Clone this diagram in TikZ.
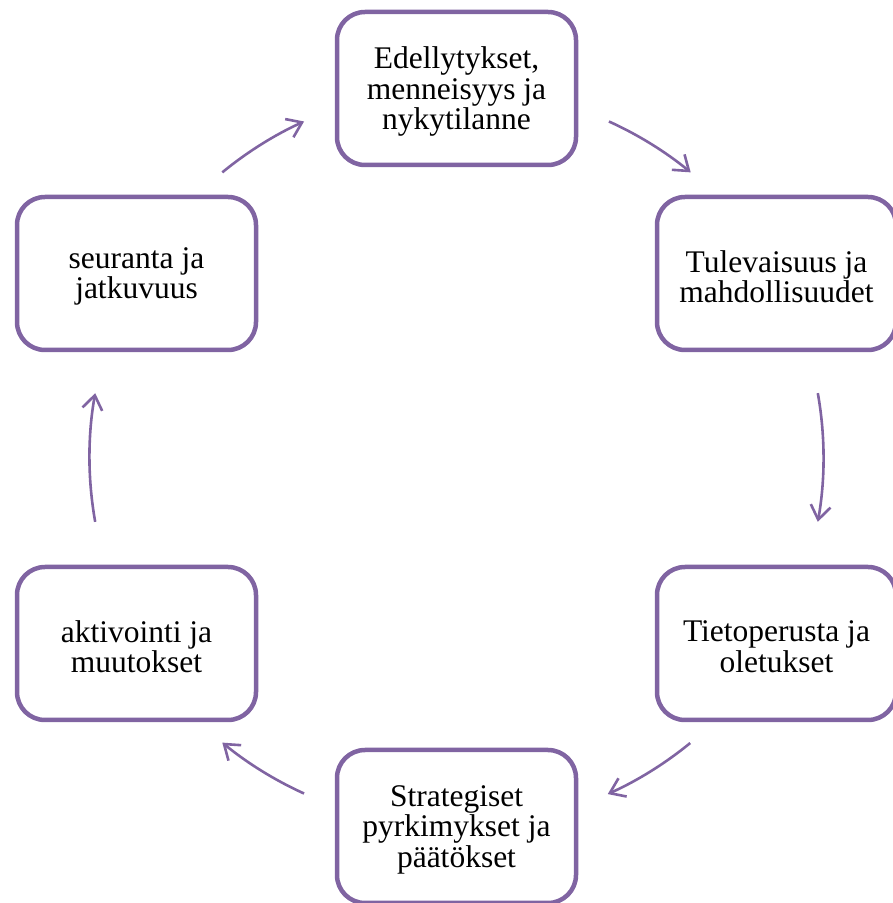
\documentclass[tikz,border=0pt]{standalone}
\usepackage{fontspec}
\setmainfont{Liberation Serif}
\usetikzlibrary{arrows.meta,calc}
\definecolor{pur}{RGB}{128,100,162}
\begin{document}
\begin{tikzpicture}[x=1pt,y=1pt,
 boxst/.style={draw=pur, line width=4.5pt, rounded corners=28pt, minimum width=239pt, minimum height=153pt, inner sep=0pt},
 lbl/.style={align=center, font=\fontsize{31.5}{30.5}\selectfont, yshift=-3pt, inner sep=0pt},
 arr/.style={draw=pur, line width=2.6pt, -{Straight Barb[length=14pt,width=20pt]}}]
\useasboundingbox (0,0) rectangle (893,903);
\coordinate (C) at (456.5,445.5);
\node[boxst] (b1) at (456.5,814.5) {};
\node[lbl] (t1) at (b1.center) {Edellytykset,\\menneisyys ja\\nykytilanne};
\node[boxst] (b2) at (776.5,629.5) {};
\node[lbl] (t2) at (b2.center) {Tulevaisuus ja\\mahdollisuudet};
\node[boxst] (b3) at (776.5,259.5) {};
\node[lbl] (t3) at (b3.center) {Tietoperusta ja\\oletukset};
\node[boxst] (b4) at (456.5,76.5) {};
\node[lbl] (t4) at (b4.center) {Strategiset\\pyrkimykset ja\\päätökset};
\node[boxst] (b5) at (136.5,259.5) {};
\node[lbl] (t5) at (b5.center) {aktivointi ja\\muutokset};
\node[boxst] (b6) at (136.5,629.5) {};
\node[lbl] (t6) at (b6.center) {seuranta ja\\jatkuvuus};
\draw[arr] ($(C)+(129.4:369)$) arc[start angle=129.4, end angle=114.4, radius=369];
\draw[arr] ($(C)+(65.6:369)$) arc[start angle=65.6, end angle=50.6, radius=369];
\draw[arr] ($(C)+(10.1:367)$) arc[start angle=10.1, end angle=-10.1, radius=367];
\draw[arr] ($(C)+(-50.7:369)$) arc[start angle=-50.7, end angle=-65.8, radius=369];
\draw[arr] ($(C)+(-114.4:369)$) arc[start angle=-114.4, end angle=-129.4, radius=369];
\draw[arr] ($(C)+(190.1:367)$) arc[start angle=190.1, end angle=169.9, radius=367];
\end{tikzpicture}
\end{document}
